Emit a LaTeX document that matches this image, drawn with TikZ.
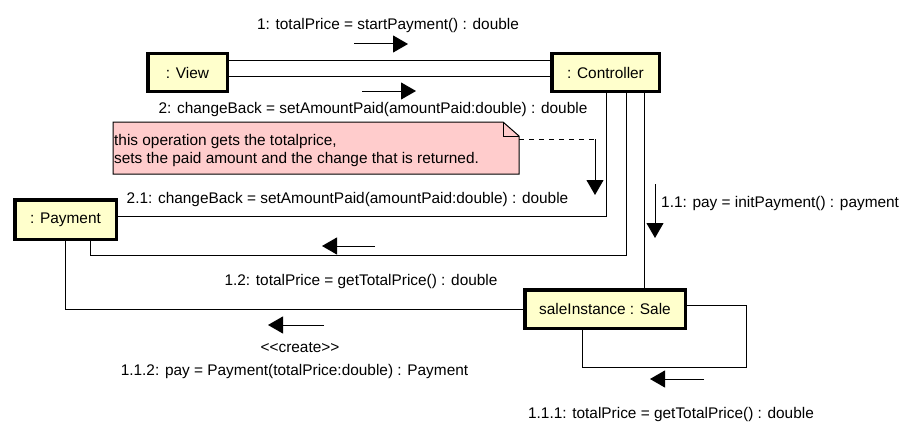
\documentclass[tikz,border=0pt]{standalone}
\usepackage{fontspec}
\setmainfont{Liberation Sans}
\usetikzlibrary{arrows.meta}
\definecolor{objfill}{RGB}{255,255,204}
\definecolor{notefill}{RGB}{255,204,204}

\begin{document}
\begin{tikzpicture}
        [x=1pt,y=-1pt,
         font=\fontsize{15.4}{18}\selectfont,
         obj/.style={draw,line width=3.5pt,fill=objfill,inner sep=0pt},
         link/.style={line width=1pt},
         msg/.style={line width=1pt,-{Triangle[length=15pt,width=17pt]}},
         lbl/.style={anchor=base,inner sep=0pt}]
        \useasboundingbox (0,0) rectangle (918,436);

        % objects
        \node[obj,minimum width=79.5pt,minimum height=37.5pt] (view) at (187.5,72.5) {: View};
        \node[obj,minimum width=107.5pt,minimum height=37.5pt] (ctrl) at (605.5,72.5) {: Controller};
        \node[obj,minimum width=101.5pt,minimum height=39.5pt] (pay) at (65.5,219.5) {: Payment};
        \node[obj,minimum width=160.5pt,minimum height=38.5pt] (sale) at (605,309) {saleInstance : Sale};

        % note
        \coordinate (noteport) at (519,139);
        \draw[link,fill=notefill] (113,122) -- (503,122) -- (519,136) -- (519,174) -- (113,174) -- cycle;
        \draw[link] (503,122) -- (503,136) -- (519,136);
        \node[anchor=north west,inner sep=0pt,align=left] (notetext) at (114,134)
          {this operation gets the totalprice,\\sets the paid amount and the change that is returned.};

        % links
        \draw[link] ([yshift=12pt]view.east) -- ([yshift=12pt]ctrl.west);
        \draw[link] ([yshift=-4pt]view.east) -- ([yshift=-4pt]ctrl.west);
        \draw[link] ([xshift=0.5pt]ctrl.south) |- ([yshift=3.5pt]pay.east);
        \coordinate (bend12) at (90,255);
        \draw[link] ([xshift=20.5pt]ctrl.south) |- (bend12) -- (bend12 |- pay.south);
        \draw[link] ([xshift=39pt]ctrl.south) -- ([xshift=39pt]ctrl.south |- sale.north);
        \draw[link] (pay.south) |- (sale.west);
        \coordinate (loop) at (746,367);
        \draw[link] ([yshift=4pt]sale.east) -| (loop) -| ([xshift=-23pt]sale.south);

        % messages
        \coordinate (m1a) at (354,44);   \coordinate (m1b) at (408,44);
        \coordinate (m2a) at (362,91);   \coordinate (m2b) at (416,91);
        \coordinate (m21a) at (595,139); \coordinate (m21b) at (595,195);
        \coordinate (m11a) at (655,184); \coordinate (m11b) at (655,238);
        \coordinate (m12a) at (375,246); \coordinate (m12b) at (322,246);
        \coordinate (m112a) at (324,325); \coordinate (m112b) at (268,325);
        \coordinate (m111a) at (704,379); \coordinate (m111b) at (650,379);

        \draw[msg] (m1a) -- (m1b);
        \draw[msg] (m2a) -- (m2b);
        \draw[link,dash pattern=on 5pt off 5pt] (noteport) -- (m21a);
        \draw[msg] (m21a) -- (m21b);
        \draw[msg] (m11a) -- (m11b);
        \draw[msg] (m12a) -- (m12b);
        \draw[msg] (m112a) -- (m112b);
        \draw[msg] (m111a) -- (m111b);

        % labels
        \node[lbl] (l1) at (388,30) {1: totalPrice = startPayment() : double};
        \node[lbl] (l2) at (373,113) {2: changeBack = setAmountPaid(amountPaid:double) : double};
        \node[lbl] (l21) at (347.5,203) {2.1: changeBack = setAmountPaid(amountPaid:double) : double};
        \node[lbl,anchor=base west] (l11) at (661,207) {1.1: pay = initPayment() : payment};
        \node[lbl] (l12) at (361,285) {1.2: totalPrice = getTotalPrice() : double};
        \node[lbl] (lcreate) at (300,352) {<{}<create>{}>};
        \node[lbl] (l112) at (294.5,375) {1.1.2: pay = Payment(totalPrice:double) : Payment};
        \node[lbl] (l111) at (671,418) {1.1.1: totalPrice = getTotalPrice() : double};
      \end{tikzpicture}
\end{document}
